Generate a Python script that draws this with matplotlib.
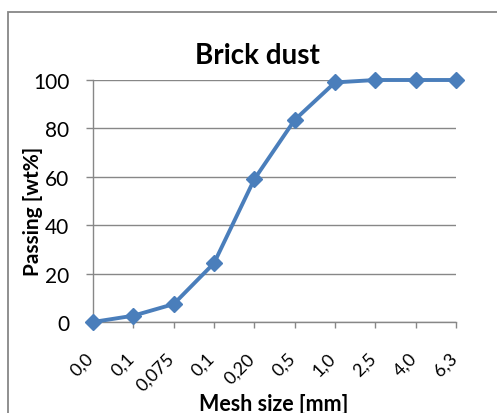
import matplotlib.pyplot as plt
import matplotlib.patches as mpatches
import matplotlib.transforms as mtransforms
import numpy as np

plt.rcParams['font.family'] = ['Lato', 'DejaVu Sans']

mesh_labels = ['0,0', '0,1', '0,075', '0,1', '0,20', '0,5', '1,0', '2,5', '4,0', '6,3']
passing = [0, 2.6, 7.4, 24.3, 59, 83.5, 99, 100, 100, 100]

W, H = 497, 414
fig = plt.figure(figsize=(W / 100, H / 100), dpi=100)
ax = fig.add_axes([93 / W, (H - 323) / H, (456 - 93) / W, (323 - 81) / H])

x = np.arange(len(mesh_labels))
ax.plot(x, passing, color='#4A7EBB', lw=2.8, marker='D', markersize=8.5,
        markerfacecolor='#4A7EBB', markeredgecolor='#4A7EBB', clip_on=False, zorder=3)

ax.set_xlim(0, len(mesh_labels) - 1)
ax.set_ylim(0, 100)
ax.set_yticks(range(0, 101, 20))
ax.yaxis.grid(True, color='#878787', lw=1.0)
ax.set_axisbelow(True)

for s in ['top', 'right']:
    ax.spines[s].set_visible(False)
for s in ['left', 'bottom']:
    ax.spines[s].set_color('#878787')
    ax.spines[s].set_linewidth(1.0)

ax.tick_params(axis='y', length=5, width=1, color='#878787', pad=12, labelsize=15)
ax.tick_params(axis='x', length=4, width=1, color='#878787', pad=16, labelsize=13)
ax.set_xticks(x)
ax.set_xticklabels(mesh_labels, rotation=45, ha='right', va='top')
offset = mtransforms.ScaledTranslation(4 / 100, 0, fig.dpi_scale_trans)
for lbl in ax.get_xticklabels():
    lbl.set_transform(lbl.get_transform() + offset)

fig.text(257 / W, (H - 64) / H, 'Brick dust', ha='center', va='baseline',
         fontsize=20, fontweight='bold')
fig.text(33 / W, (H - 211) / H, 'Passing [wt%]', ha='center', va='center',
         rotation=90, fontsize=15, fontweight='bold')
fig.text(274 / W, (H - 411) / H, 'Mesh size [mm]', ha='center', va='baseline',
         fontsize=15.5, fontweight='bold')

frame = mpatches.Rectangle((8 / W, -0.1), 1.1, (H - 13) / H + 0.1,
                           transform=fig.transFigure, fill=False,
                           edgecolor='#878787', lw=1.3)
fig.add_artist(frame)

fig.savefig('out.png', dpi=100)
